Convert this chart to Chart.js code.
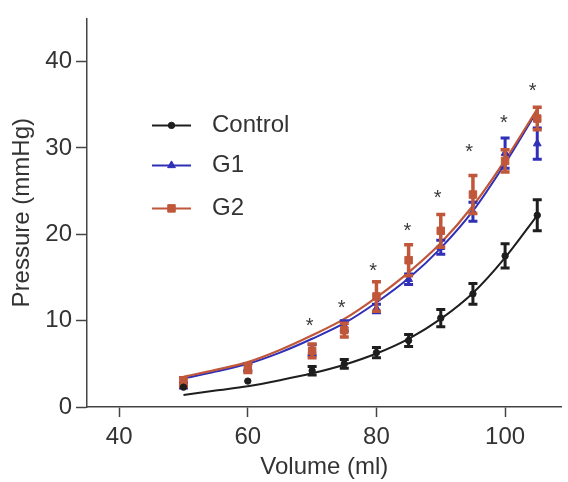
<!DOCTYPE html>
<html><head><meta charset="utf-8">
<script src="https://cdn.jsdelivr.net/npm/chart.js@4.4.0/dist/chart.umd.min.js"></script>
<style>html,body{margin:0;padding:0;background:#fff;}#wrap{width:568px;height:482px;position:relative;}</style>
</head><body><div id="wrap"><canvas id="c" width="568" height="482"></canvas></div>
<script>
// ---- data ----
const volumes = [50, 60, 70, 75, 80, 85, 90, 95, 100, 105];
const controlMean = [2.3, 3.0, 4.2, 5.0, 6.3, 7.7, 10.3, 13.1, 17.5, 22.2];
const controlErr  = [0, 0, 0.5, 0.5, 0.6, 0.7, 1.0, 1.2, 1.4, 1.8];
const g1Mean = [2.5, 4.6, 6.6, 9.4, 11.4, 14.8, 18.5, 22.6, 29.4, 30.5];
const g1Err  = [0.3, 0.4, 0.6, 0.6, 0.5, 0.6, 0.8, 1.1, 1.75, 1.8];
const g2Mean = [2.9, 4.5, 6.5, 8.9, 12.8, 17.0, 20.4, 24.6, 28.5, 33.4];
const g2Err  = [0.5, 0.5, 0.8, 0.8, 1.7, 1.8, 1.9, 2.2, 1.3, 1.3];
const fitVolumes = [50, 55, 60, 65, 70, 75, 80, 85, 90, 95, 100, 105];
const fitControl = [1.4, 1.9, 2.4, 3.1, 3.9, 4.9, 6.2, 7.9, 10.2, 13.2, 17.3, 22.2];
const fitG1      = [3.3, 4.1, 5.0, 6.3, 7.9, 9.7, 12.1, 14.9, 18.4, 22.7, 28.2, 34.3];
const fitG2      = [3.5, 4.3, 5.2, 6.6, 8.3, 10.2, 12.7, 15.6, 19.0, 23.3, 28.6, 34.5];
const starVolumes = [69.6, 74.6, 79.5, 84.8, 89.5, 94.4, 99.8, 104.3];
const starLevels  = [9.9, 11.9, 16.2, 20.9, 24.7, 30.0, 33.4, 37.1];
const seriesNames = ['Control', 'G1', 'G2'];
const xTicks = [40, 60, 80, 100];
const yTicks = [0, 10, 20, 30, 40];

const FONT = "'Liberation Sans', Arial, sans-serif";
const TEXT = '#333333';
const AXIS = '#444444';
const C_CTRL = '#1e1e1e', C_G1 = '#2f2fb8', C_G2 = '#c0573a';

const pts = (xs, ys) => xs.map((v, i) => ({x: v, y: ys[i]}));

function marker(ctx, style, x, y, r, color) {
  ctx.save();
  ctx.fillStyle = color; ctx.strokeStyle = color; ctx.lineWidth = 1;
  ctx.beginPath();
  if (style === 'circle') { ctx.arc(x, y, r, 0, Math.PI * 2); }
  else if (style === 'triangle') {
    for (let k = 0; k < 3; k++) {
      const a = k * 2 * Math.PI / 3;
      const px = x + Math.sin(a) * r, py = y - Math.cos(a) * r;
      k ? ctx.lineTo(px, py) : ctx.moveTo(px, py);
    }
    ctx.closePath();
  } else { const s = Math.SQRT1_2 * r; ctx.rect(x - s, y - s, 2 * s, 2 * s); }
  ctx.fill(); ctx.stroke();
  ctx.restore();
}

const errorBars = {
  id: 'errorBars',
  afterDatasetDraw(chart, args) {
    const ds = chart.data.datasets[args.index];
    if (!ds.errors) return;
    const {ctx} = chart, xs = chart.scales.x, ys = chart.scales.y;
    ctx.save();
    ctx.strokeStyle = ds.borderColor; ctx.lineWidth = ds.errorWidth; ctx.lineCap = 'butt';
    ds.data.forEach((p, i) => {
      const e = ds.errors[i]; if (!e) return;
      const px = xs.getPixelForValue(p.x);
      const t = ys.getPixelForValue(p.y + e), b = ys.getPixelForValue(p.y - e);
      const cap = 4.5;
      ctx.beginPath();
      ctx.moveTo(px, t); ctx.lineTo(px, b);
      ctx.moveTo(px - cap, t); ctx.lineTo(px + cap, t);
      ctx.moveTo(px - cap, b); ctx.lineTo(px + cap, b);
      ctx.stroke();
    });
    ctx.restore();
  }
};

const stars = {
  id: 'stars',
  afterDatasetsDraw(chart) {
    const {ctx} = chart, xs = chart.scales.x, ys = chart.scales.y;
    ctx.save();
    ctx.font = '20px ' + FONT; ctx.fillStyle = '#3a3a3a'; ctx.textAlign = 'center'; ctx.textBaseline = 'alphabetic';
    const m = ctx.measureText('*');
    const off = (m.actualBoundingBoxAscent - m.actualBoundingBoxDescent) / 2;
    starVolumes.forEach((v, i) => {
      ctx.fillText('*', xs.getPixelForValue(v), ys.getPixelForValue(starLevels[i]) + off);
    });
    ctx.restore();
  }
};

const legendPlugin = {
  id: 'customLegend',
  afterDraw(chart) {
    const {ctx, chartArea} = chart;
    const items = [
      {label: seriesNames[0], color: C_CTRL, style: 'circle', r: 3.2},
      {label: seriesNames[1], color: C_G1, style: 'triangle', r: 4.5},
      {label: seriesNames[2], color: C_G2, style: 'rect', r: 5.3}
    ];
    const x0 = chartArea.left + 65, rowY = [chartArea.top + 107, chartArea.top + 147, chartArea.top + 190];
    ctx.save();
    items.forEach((it, i) => {
      const y = rowY[i];
      ctx.strokeStyle = it.color; ctx.lineWidth = 2;
      ctx.beginPath(); ctx.moveTo(x0, y); ctx.lineTo(x0 + 39, y); ctx.stroke();
      marker(ctx, it.style, x0 + 19.5, y, it.r, it.color);
      ctx.font = '24px ' + FONT; ctx.fillStyle = TEXT; ctx.textAlign = 'left'; ctx.textBaseline = 'middle';
      ctx.fillText(it.label, x0 + 60, y);
    });
    ctx.restore();
  }
};

const pointSet = (label, xs, ys, errs, color, style, r, order, ew) => ({
  label, data: pts(xs, ys), errors: errs, errorWidth: ew,
  borderColor: color, backgroundColor: color, pointStyle: style, pointRadius: r,
  pointBorderWidth: 1, showLine: false, order
});
const fitSet = (label, ys, color, order, w) => ({
  label, data: pts(fitVolumes, ys), borderColor: color, backgroundColor: color,
  borderWidth: w, pointRadius: 0, showLine: true, tension: 0.4,
  cubicInterpolationMode: 'monotone', fill: false, order
});

new Chart(document.getElementById('c'), {
  type: 'scatter',
  data: {
    datasets: [
      pointSet(seriesNames[0], volumes, controlMean, controlErr, C_CTRL, 'circle', 3.2, 0, 3),
      pointSet(seriesNames[2], volumes, g2Mean, g2Err, C_G2, 'rect', 5.3, 1, 3.5),
      pointSet(seriesNames[1], volumes, g1Mean, g1Err, C_G1, 'triangle', 4.5, 2, 3),
      fitSet(seriesNames[2] + ' fit', fitG2, C_G2, 3, 2.2),
      fitSet(seriesNames[1] + ' fit', fitG1, C_G1, 4, 2),
      fitSet(seriesNames[0] + ' fit', fitControl, C_CTRL, 5, 2)
    ]
  },
  options: {
    responsive: false, animation: false, devicePixelRatio: 1,
    layout: {padding: {top: 15, right: 0, left: 0, bottom: 0}},
    plugins: {legend: {display: false}, tooltip: {enabled: false}},
    scales: {
      x: {
        type: 'linear', min: 35, max: 108.8,
        afterBuildTicks: s => { s.ticks = xTicks.map(v => ({value: v})); },
        afterFit: s => { s.height = 75; },
        grid: {display: true, drawOnChartArea: false, drawTicks: true, tickLength: 10, tickWidth: 1.5, tickColor: AXIS},
        border: {display: true, color: AXIS, width: 1.5},
        ticks: {color: TEXT, font: {size: 24, family: FONT}, padding: 6, maxRotation: 0},
        title: {display: true, text: 'Volume (ml)', color: TEXT, font: {size: 24, family: FONT}, padding: {top: 3, bottom: 0}}
      },
      y: {
        type: 'linear', min: 0, max: 45,
        afterBuildTicks: s => { s.ticks = yTicks.map(v => ({value: v})); },
        afterFit: s => { s.width = 87; },
        grid: {display: true, drawOnChartArea: false, drawTicks: true, tickLength: 11, tickWidth: 1.5, tickColor: AXIS},
        border: {display: true, color: AXIS, width: 1.5},
        ticks: {color: TEXT, font: {size: 24, family: FONT}, padding: 4},
        title: {display: true, text: 'Pressure (mmHg)', color: TEXT, font: {size: 24, family: FONT}, padding: {top: 8, bottom: 0}}
      }
    }
  },
  plugins: [errorBars, stars, legendPlugin]
});
</script></body></html>
